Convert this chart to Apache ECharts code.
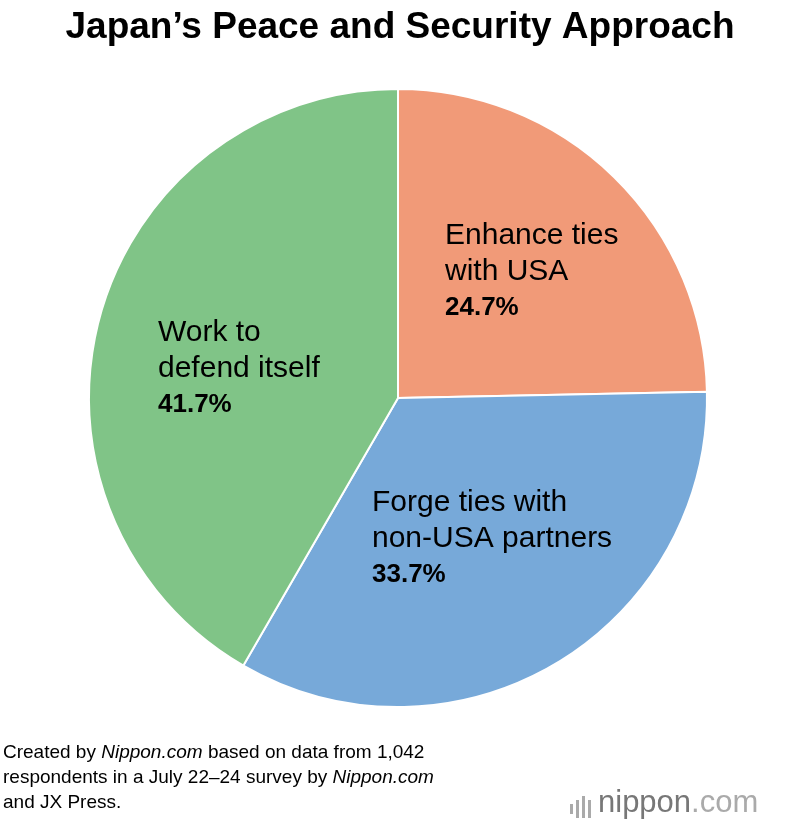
<!DOCTYPE html>
<html><head><meta charset="utf-8">
<script src="https://cdn.jsdelivr.net/npm/echarts@6/dist/echarts.min.js"></script>
<style>html,body{margin:0;background:#fff}#c{width:800px;height:828px}</style>
</head><body><div id="c"></div>
<script>
var chart = echarts.init(document.getElementById('c'));

var names = ['Enhance ties\nwith USA', 'Forge ties with\nnon-USA partners', 'Work to\ndefend itself'];
var values = [24.7, 33.7, 41.7];
var colors = ['#f19a78', '#77a9d9', '#80c487'];
// label anchor (left/top) for each slice
var labelPos = [[445, 218], [372, 485], [158, 315]];

var font = '"Liberation Sans", Arial, sans-serif';

chart.setOption({
    animation: false,
    title: {
        text: 'Japan\u2019s Peace and Security Approach',
        left: 'center', top: 4,
        textStyle: { fontFamily: font, fontSize: 37, fontWeight: 'bold', color: '#000' }
    },
    series: [{
        type: 'pie',
        center: [398, 398],
        radius: [0, 309],
        startAngle: 90,
        clockwise: true,
        itemStyle: { borderColor: '#fff', borderWidth: 2 },
        label: {
            position: 'inside',
            align: 'left',
            verticalAlign: 'top',
            formatter: function (p) { return '{n|' + p.name + '}\n{v|' + p.value.toFixed(1) + '%}'; },
            rich: {
                n: { fontFamily: font, fontSize: 30, lineHeight: 36, color: '#000', align: 'left' },
                v: { fontFamily: font, fontSize: 26, fontWeight: 'bold', lineHeight: 36, color: '#000', align: 'left' }
            }
        },
        labelLayout: function (p) {
            var pos = labelPos[p.dataIndex];
            return { x: pos[0], y: pos[1], align: 'left', verticalAlign: 'top' };
        },
        emphasis: { disabled: true },
        data: values.map(function (v, i) {
            return { name: names[i], value: v, itemStyle: { color: colors[i] } };
        })
    }],
    graphic: [{
        type: 'text', left: 3, top: 740,
        style: {
            text: 'Created by {i|Nippon.com} based on data from 1,042\nrespondents in a July 22\u201324 survey by {i|Nippon.com}\nand JX Press.',
            font: '19px ' + font, lineHeight: 25, fill: '#000',
            rich: { i: { fontStyle: 'italic', fontSize: 19, fontFamily: font } }
        }
    }, {
        type: 'text', left: 598, top: 788,
        style: { text: 'nippon{s|.com}', font: '31px ' + font, fill: '#777',
            rich: { s: { fontSize: 31, fontFamily: font, fill: '#aaa' } } }
    }, {
        type: 'group', left: 570, top: 796,
        children: [0, 1, 2, 3].map(function (i) {
            return { type: 'rect', shape: { x: i * 6, y: [8, 4, 0, 4][i], width: 3, height: [10, 18, 22, 18][i] }, style: { fill: '#aaa' } };
        })
    }]
});
</script>
</body></html>
